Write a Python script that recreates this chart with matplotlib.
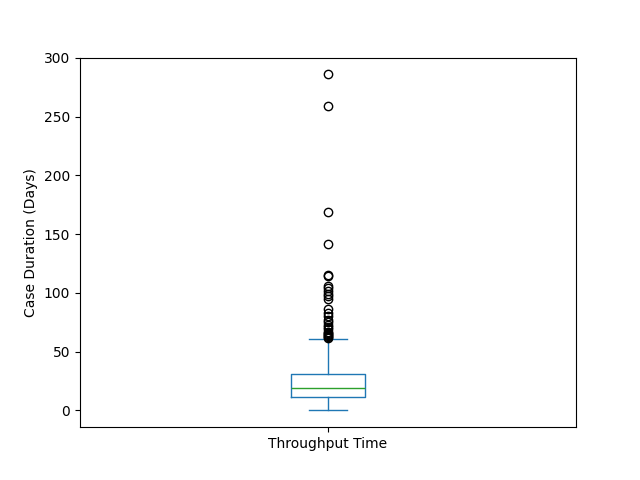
import matplotlib
matplotlib.use("Agg")
import matplotlib.pyplot as plt

label = "Throughput Time"
q1 = 11
median = 19
q3 = 31
whisker_low = 0
whisker_high = 61
outliers = [62, 62.5, 63, 64, 65, 66, 67, 69, 71, 73, 75, 77, 80, 83, 86,
            95, 97, 99, 102, 104, 106, 114, 115, 142, 169, 259, 286]

stats = [{
    "label": label,
    "q1": q1,
    "med": median,
    "q3": q3,
    "whislo": whisker_low,
    "whishi": whisker_high,
    "fliers": outliers,
}]

fig, ax = plt.subplots(figsize=(6.4, 4.8), dpi=100)
ax.bxp(stats,
       boxprops=dict(color="C0"),
       whiskerprops=dict(color="C0"),
       capprops=dict(color="C0"),
       medianprops=dict(color="C2"),
       flierprops=dict(markeredgecolor="black"))
ax.set_ylabel("Case Duration (Days)")

fig.savefig("out.png")
